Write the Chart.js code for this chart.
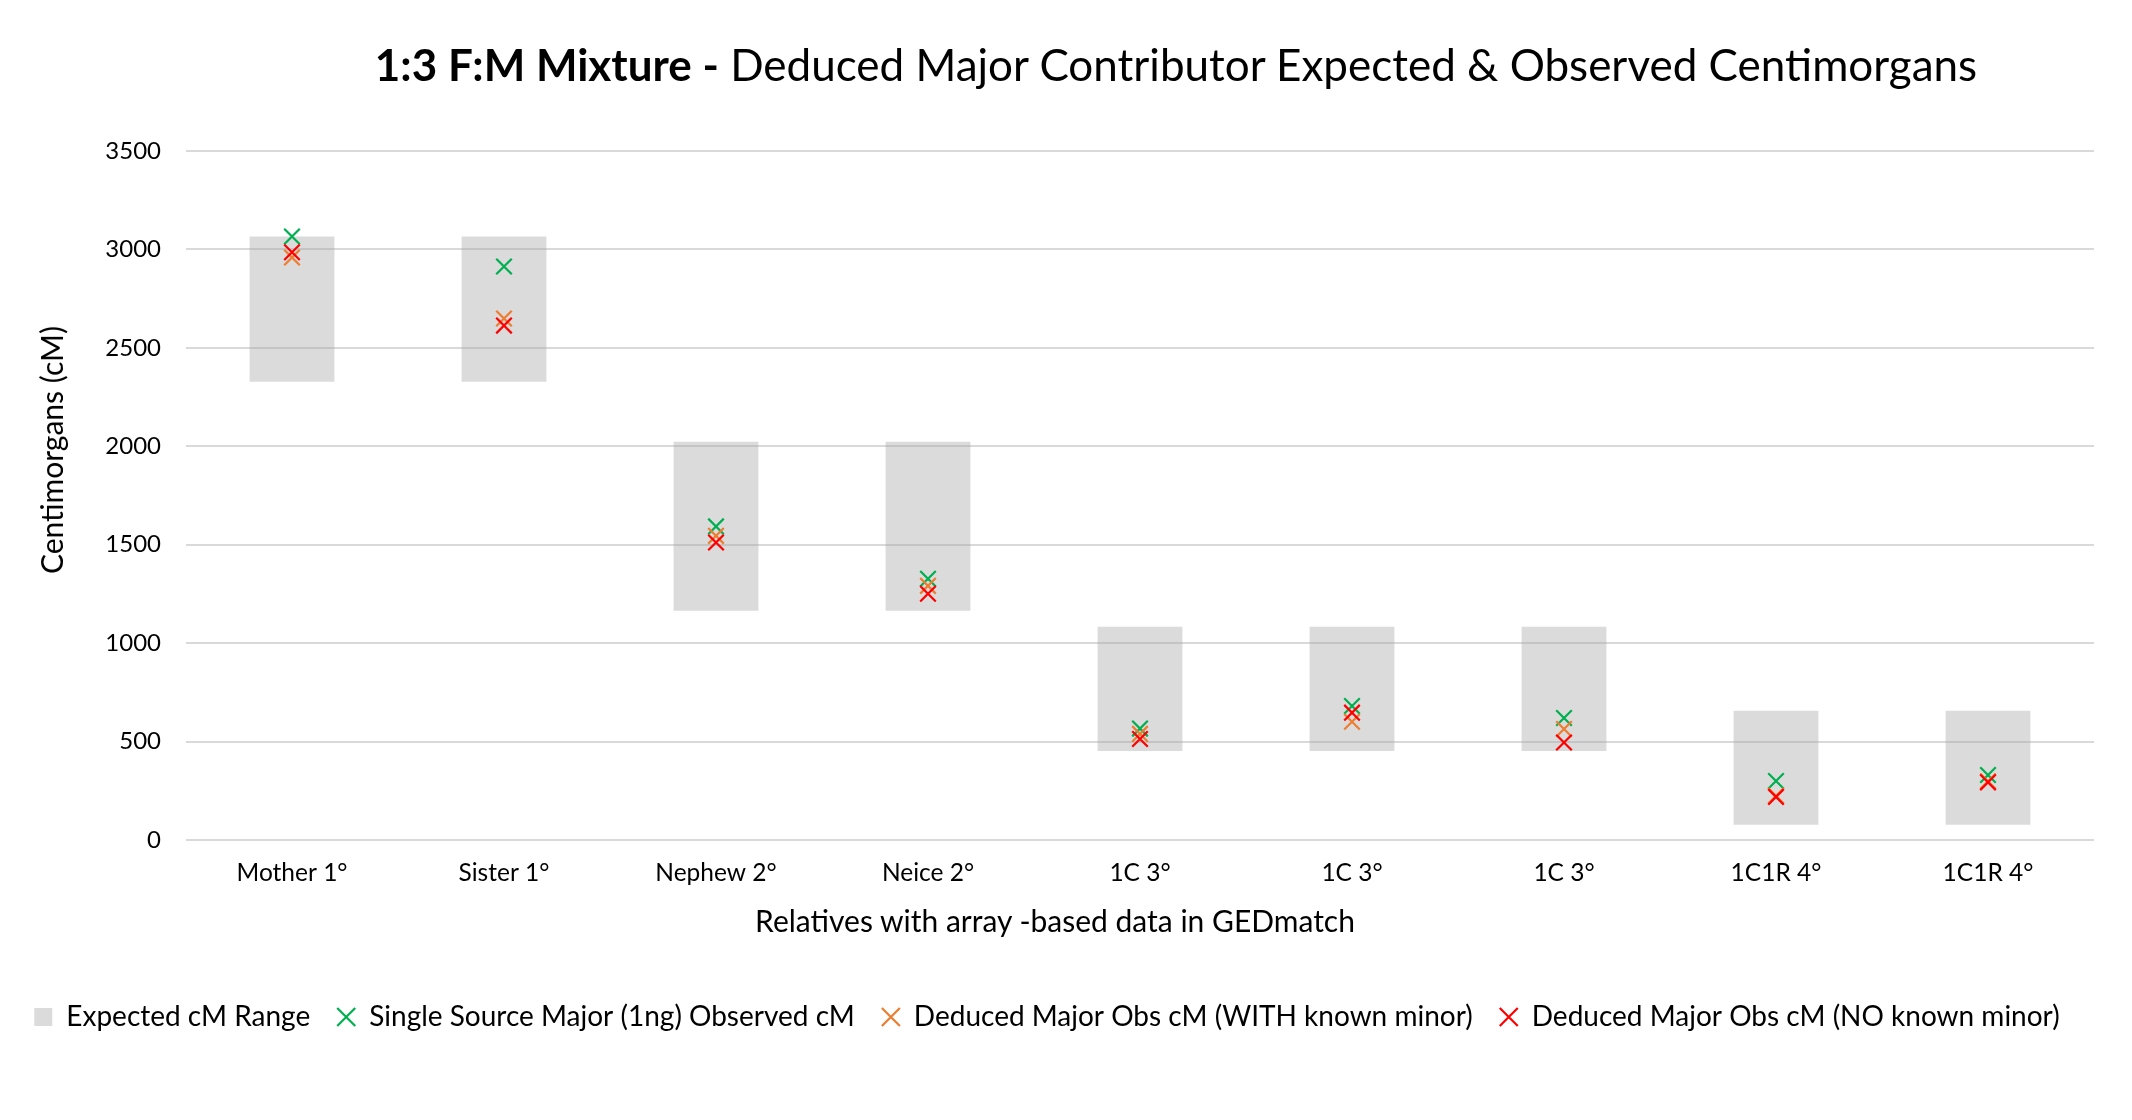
<!DOCTYPE html>
<html>
<head>
<meta charset="utf-8">
<script src="https://cdn.jsdelivr.net/npm/chart.js@4.4.1/dist/chart.umd.min.js"></script>
<style>
  html, body { margin: 0; padding: 0; background: #fff; }
  #wrap { position: relative; width: 2132px; height: 1120px; }
  .txt {
    position: absolute; font-family: Lato, "Open Sans", sans-serif;
    white-space: nowrap; color: #000;
  }
  #title { top: 36px; left: 1176px; transform: translateX(-50%); font-size: 44px; line-height: 56px; }
  #xtitle { top: 920px; left: 1055px; transform: translate(-50%, -50%); font-size: 30px; line-height: 36px; }
  #ytitle { top: 450px; left: 51px; transform: translate(-50%, -50%) rotate(-90deg); font-size: 30px; line-height: 36px; }
  canvas { position: absolute; left: 0; top: 0; }
</style>
</head>
<body>
<div id="wrap">
  <canvas id="chart" width="2132" height="1120"></canvas>
  <div id="title" class="txt"><b>1:3 F:M Mixture -</b> Deduced Major Contributor Expected &amp; Observed Centimorgans</div>
  <div id="xtitle" class="txt">Relatives with array -based data in GEDmatch</div>
  <div id="ytitle" class="txt">Centimorgans (cM)</div>
</div>
<script>
// categories
const relatives = ['Mother 1°', 'Sister 1°', 'Nephew 2°', 'Neice 2°', '1C 3°', '1C 3°', '1C 3°', '1C1R 4°', '1C1R 4°'];

// expected cM range (low / high ends of the grey boxes)
const expectedLow = [2328, 2328, 1164, 1164, 452, 452, 452, 78, 78];
const expectedHigh = [3066, 3066, 2023, 2023, 1083, 1083, 1083, 657, 657];

// observed values
const singleSource = [3066, 2913, 1593, 1327, 566, 681, 620, 300, 330];
const withKnownMinor = [2959, 2649, 1545, 1291, 539, 601, 564, 225, 298];
const noKnownMinor = [2986, 2613, 1511, 1251, 513, 647, 495, 219, 293];

// y axis ticks
const yMin = 0, yMax = 3500, yStep = 500;

const FONT = 'Lato, "Open Sans", sans-serif';

function markerSet(label, data, color, order) {
  return {
    type: 'line',
    label: label,
    data: data,
    showLine: false,
    pointStyle: 'crossRot',
    pointRadius: 11,
    pointHoverRadius: 11,
    pointBorderWidth: 2.2,
    borderWidth: 2.2,
    borderColor: color,
    backgroundColor: color,
    pointBorderColor: color,
    order: order
  };
}

new Chart(document.getElementById('chart'), {
  type: 'bar',
  data: {
    labels: relatives,
    datasets: [
      {
        label: 'Expected cM Range',
        data: expectedLow.map((lo, i) => [lo, expectedHigh[i]]),
        backgroundColor: 'rgba(166,166,166,0.4)',
        borderWidth: 0,
        barPercentage: 0.4,
        categoryPercentage: 1,
        pointStyle: 'rect',
        order: 4
      },
      markerSet('Single Source Major (1ng) Observed cM', singleSource, '#00b050', 3),
      markerSet('Deduced Major Obs cM (WITH known minor)', withKnownMinor, '#ed7d31', 2),
      markerSet('Deduced Major Obs cM (NO known minor)', noKnownMinor, '#ff0000', 1)
    ]
  },
  options: {
    responsive: false,
    animation: false,
    devicePixelRatio: 1,
    layout: { padding: { top: 151, right: 38, bottom: 79, left: 0 } },
    plugins: {
      legend: {
        position: 'bottom',
        labels: {
          usePointStyle: true,
          boxWidth: 18,
          boxHeight: 18,
          padding: 27,
          color: '#000',
          font: { family: FONT, size: 28 },
          sort: (a, b) => a.datasetIndex - b.datasetIndex
        }
      },
      tooltip: { enabled: false }
    },
    scales: {
      x: {
        grid: { display: false },
        border: { display: false },
        ticks: { color: '#000', padding: 10, font: { family: FONT, size: 24.5 } },
        // axis title is an html label (Excel places it off-centre)
        afterFit: scale => { scale.height = 136; }
      },
      y: {
        min: yMin,
        max: yMax,
        ticks: {
          stepSize: yStep, color: '#000', padding: 25, font: { family: FONT, size: 24 },
          callback: v => String(v)
        },
        grid: { color: '#d9d9d9', lineWidth: 2, drawTicks: false },
        border: { display: false },
        afterFit: scale => { scale.width = 186; }
      }
    }
  }
});
</script>
</body>
</html>
